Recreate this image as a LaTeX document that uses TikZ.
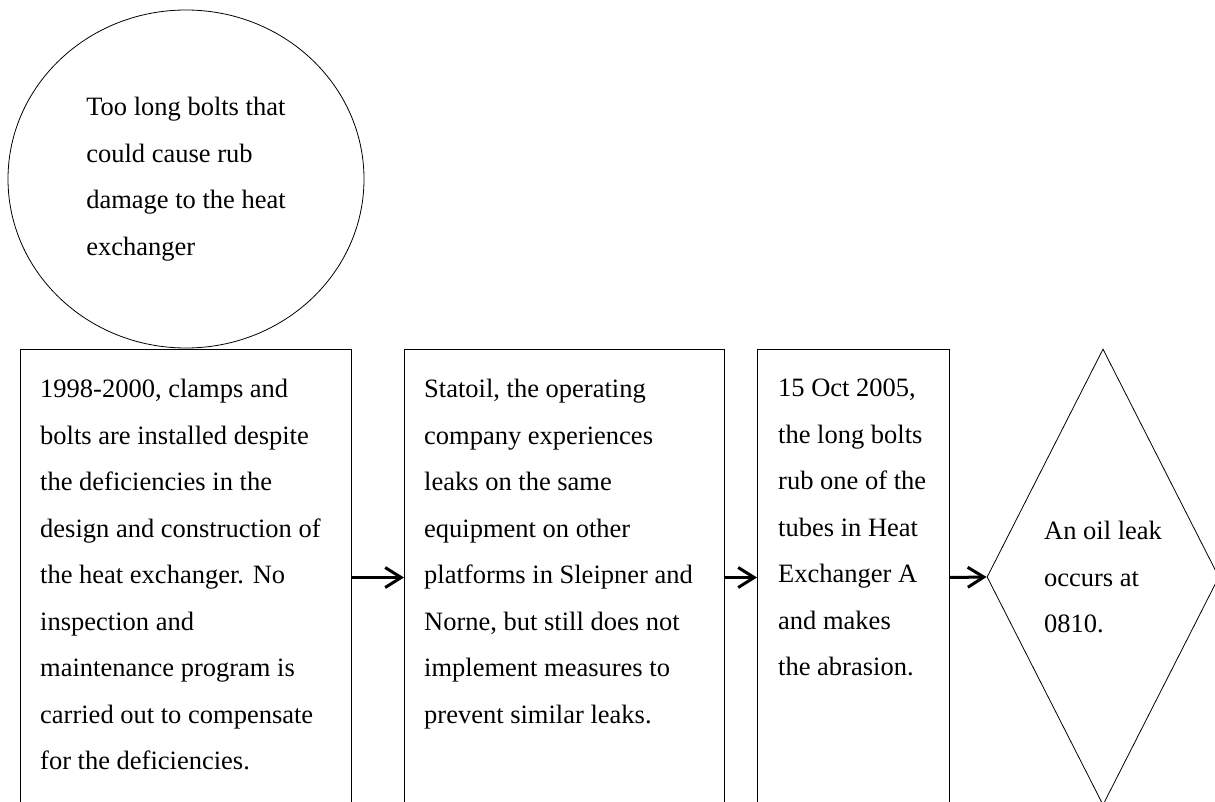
\documentclass[tikz,border=0pt]{standalone}
\usepackage{fontspec}
\setmainfont{Liberation Serif}
\usetikzlibrary{arrows.meta, positioning, shapes.geometric}

\begin{document}
\begin{tikzpicture}[x=1pt, y=-1pt,
    font=\fontsize{26.5}{46.5}\selectfont,
    blk/.style={draw, line width=1pt, minimum width=#1, minimum height=456pt, anchor=north west, inner sep=0pt},
    txt/.style={align=left, inner sep=0pt},
    arr/.style={line width=3pt, -{Straight Barb[length=16pt, width=20pt]}}]
    \useasboundingbox (0,0) rectangle (1215,802);
    \clip (0,0) rectangle (1215,802);
    % root cause
    \node[draw, ellipse, line width=0.8pt, inner sep=0pt, align=left,
      minimum width=356pt, minimum height=338pt] (p) at (186,179)
      {Too long bolts that\\could cause rub\\damage to the heat\\exchanger};
    % chain of events
    \node[blk=331pt] (a) at (20,349) {};
    \node[blk=320pt] (b) at (404,349) {};
    \node[blk=192pt] (c) at (757,349) {};
    \node[draw, diamond, aspect=0.5, line width=0.8pt, inner sep=0pt, align=left,
      minimum width=232pt, minimum height=456pt] (d) at (1103,577)
      {An oil leak\\occurs at\\0810.};
    \node[txt, below right=30pt and 20pt of a.north west] (ta)
      {1998-2000, clamps and\\bolts are installed despite\\the deficiencies in the\\design and construction of\\the heat exchanger. No\\inspection and\\maintenance program is\\carried out to compensate\\for the deficiencies.};
    \node[txt, below right=30pt and 20pt of b.north west] (tb)
      {Statoil, the operating\\company experiences\\leaks on the same\\equipment on other\\platforms in Sleipner and\\Norne, but still does not\\implement measures to\\prevent similar leaks.};
    \node[txt, below right=30pt and 21pt of c.north west] (tc)
      {15 Oct 2005,\\the long bolts\\rub one of the\\tubes in Heat\\Exchanger A\\and makes\\the abrasion.};
    \draw[arr] (a.east) -- (b.west);
    \draw[arr] (b.east) -- (c.west);
    \draw[arr] (c.east) -- (d.west);
\end{tikzpicture}
\end{document}
